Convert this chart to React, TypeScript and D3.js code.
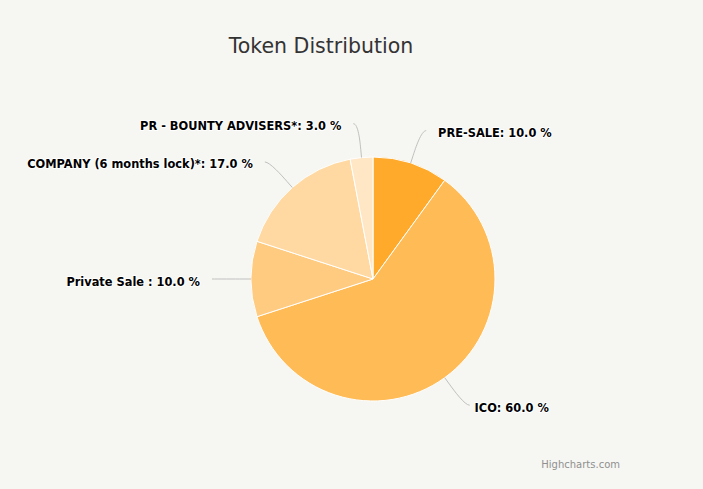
import React from "react";
import * as d3 from "d3";

const categories = ["PRE-SALE", "ICO", "Private Sale ", "COMPANY (6 months lock)*", "PR - BOUNTY ADVISERS*"];
const values = [10, 60, 10, 17, 3];
const colors = ["#ffaa2b", "#ffbb55", "#ffcb80", "#ffd9a1", "#ffe7c6"];

const W = 703, H = 489;
const cx = 373, cy = 279, R = 122;

export default function App() {
  const pie = d3.pie<number>().sort(null).value((d) => d)(values);
  const arc = d3.arc<d3.PieArcDatum<number>>().innerRadius(0).outerRadius(R);
  const pt = (a: number, r: number) => [cx + r * Math.sin(a), cy - r * Math.cos(a)];
  const total = d3.sum(values);
  return (
    <svg width={W} height={H} style={{ position: "absolute", left: 0, top: 0, fontFamily: "'DejaVu Sans', sans-serif" }}>
      <rect x={0} y={0} width={W} height={H} fill="#f6f6f2" />
      <text x={321} y={53} textAnchor="middle" fontSize={20.5} fill="#333">Token Distribution</text>
      <g transform={`translate(${cx},${cy})`}>
        {pie.map((p, i) => (
          <path key={i} d={arc(p) || ""} fill={colors[i]} stroke="#fff" strokeWidth={1} />
        ))}
      </g>
      {pie.map((p, i) => {
        const a = (p.startAngle + p.endAngle) / 2;
        const right = Math.sin(a) >= 0;
        const [lx, ly] = pt(a, R + 34);
        const [bx, by] = pt(a, R + 8);
        const [tx, ty] = pt(a, R);
        const s = right ? 1 : -1;
        const d = `M${lx + s * 5},${ly} C${lx},${ly} ${2 * bx - tx},${2 * by - ty} ${bx},${by} L${tx},${ty}`;
        const label = `${categories[i]}: ${((values[i] / total) * 100).toFixed(1)} %`;
        const RT = R + 40;
        const textX = right ? cx + Math.sqrt(Math.max(0, RT * RT - (ly - cy) * (ly - cy))) : lx - 17;
        return (
          <g key={i}>
            <path d={d} fill="none" stroke="#c0c0c0" strokeWidth={1} />
            <text x={textX} y={ly + 6.5} textAnchor={right ? "start" : "end"} fontSize={11.4} fontWeight="bold"
              fill="#000" stroke="#fff" strokeWidth={2} paintOrder="stroke" strokeLinejoin="round">{label}</text>
          </g>
        );
      })}
      <text x={620} y={468} textAnchor="end" fontSize={10} fill="#909090">Highcharts.com</text>
    </svg>
  );
}
